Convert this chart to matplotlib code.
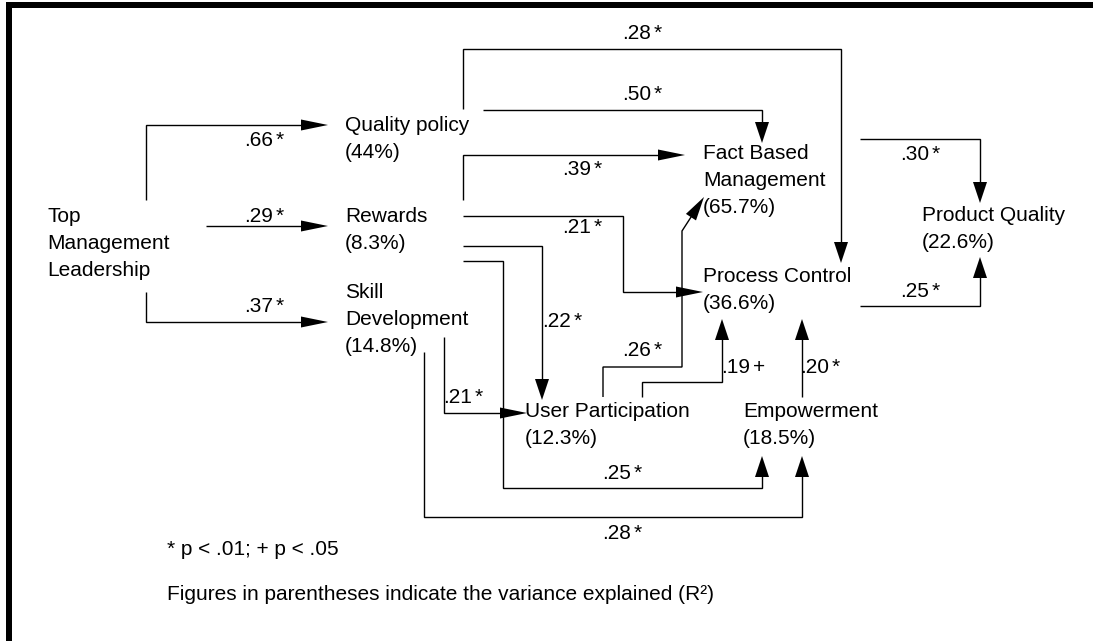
import matplotlib
matplotlib.use("Agg")
import matplotlib.pyplot as plt
from matplotlib.patches import Polygon, Rectangle

# ---------------- data ----------------
node_keys = ["TML", "QP", "RW", "SD", "FBM", "PC", "UP", "EM", "PQ"]
node_names = ["Top\nManagement\nLeadership", "Quality policy", "Rewards",
              "Skill\nDevelopment", "Fact Based\nManagement", "Process Control",
              "User Participation", "Empowerment", "Product Quality"]
node_r2 = [None, "44%", "8.3%", "14.8%", "65.7%", "36.6%", "12.3%", "18.5%", "22.6%"]

path_from = ["TML", "TML", "TML", "QP", "QP", "RW", "RW", "RW", "RW",
             "SD", "SD", "UP", "UP", "EM", "FBM", "PC"]
path_to = ["QP", "RW", "SD", "PC", "FBM", "FBM", "PC", "UP", "EM",
           "UP", "EM", "FBM", "PC", "PC", "PQ", "PQ"]
path_coef = [".66", ".29", ".37", ".28", ".50", ".39", ".21", ".22", ".25",
             ".21", ".28", ".26", ".19", ".20", ".30", ".25"]
path_sig = ["*", "*", "*", "*", "*", "*", "*", "*", "*",
            "*", "*", "*", "+", "*", "*", "*"]

footnotes = ["* p < .01; + p < .05",
             "Figures in parentheses indicate the variance explained (R\u00b2)"]

# ---------------- layout (pixel space) ----------------
W, H = 1093, 641
node_pos = {"TML": (47, 222), "QP": (345, 131), "RW": (345, 222), "SD": (345, 298),
            "FBM": (703, 159), "PC": (703, 282), "UP": (525, 417), "EM": (743, 417),
            "PQ": (922, 221)}
line_step = 26.9

routes = [
    [(146, 200), (146, 125), (328, 125)],
    [(206, 226), (328, 226)],
    [(146, 292), (146, 322), (328, 322)],
    [(463, 109), (463, 49), (841, 49), (841, 263)],
    [(483, 110), (762, 110), (762, 143)],
    [(463, 200), (463, 155), (685, 155)],
    [(463, 216), (623, 216), (623, 292), (703, 292)],
    [(463, 246), (542, 246), (542, 400)],
    [(463, 261), (503, 261), (503, 488), (762, 488), (762, 456)],
    [(444, 337), (444, 413), (527, 413)],
    [(424, 352), (424, 517), (802, 517), (802, 456)],
    [(603, 397), (603, 367), (682, 367), (682, 231), (704, 197)],
    [(642, 397), (642, 382), (722, 382), (722, 319)],
    [(802, 397), (802, 319)],
    [(860, 139), (980, 139), (980, 203)],
    [(860, 306), (980, 306), (980, 257)],
]
label_pos = [(246, 146), (246, 222), (246, 312), (624, 39), (624, 100), (564, 175),
             (564, 233), (544, 327), (604, 479), (445, 403), (604, 539), (624, 356),
             (723, 373), (802, 373), (902, 160), (902, 297)]
foot_pos = [(167, 555), (167, 600)]

FONT = "Liberation Sans"
FS = 15
LW = 1.0

fig = plt.figure(figsize=(W / 100, H / 100), dpi=100)
ax = fig.add_axes([0, 0, 1, 1])
ax.set_xlim(0, W)
ax.set_ylim(H, 0)
ax.axis("off")

# border
ax.add_patch(Rectangle((6, 2), W - 6, 5.5, color="black", lw=0))
ax.add_patch(Rectangle((6, 2), 6, H, color="black", lw=0))


def arrow(pts):
    import math
    (x0, y0), (x1, y1) = pts[-2], pts[-1]
    dx, dy = x1 - x0, y1 - y0
    d = math.hypot(dx, dy)
    ux, uy = dx / d, dy / d
    if abs(dy) < 1e-6:
        L, hw = 27, 5.5
    elif abs(dx) < 1e-6:
        L, hw = 21, 7
    else:
        L, hw = 24, 6
    bx, by = x1 - ux * L, y1 - uy * L
    px, py = -uy, ux
    xs = [p[0] for p in pts[:-1]] + [bx + ux * 2]
    ys = [p[1] for p in pts[:-1]] + [by + uy * 2]
    ax.plot(xs, ys, color="black", lw=LW, solid_joinstyle="miter",
            solid_capstyle="butt")
    tri = [(x1, y1), (bx + px * hw, by + py * hw), (bx - px * hw, by - py * hw)]
    ax.add_patch(Polygon(tri, closed=True, color="black", lw=0))


for pts in routes:
    arrow(pts)

# node labels
for key, name, r2 in zip(node_keys, node_names, node_r2):
    x, y = node_pos[key]
    lines = name.split("\n") + ([f"({r2})"] if r2 else [])
    for i, ln in enumerate(lines):
        ax.text(x, y + i * line_step, ln, fontsize=FS, family=FONT,
                ha="left", va="baseline")

# path coefficients
for (x, y), c, s in zip(label_pos, path_coef, path_sig):
    t = ax.text(x - 2, y, c, fontsize=FS, family=FONT, ha="left", va="baseline")
    ax.annotate(s, xy=(1, 0), xycoords=t, xytext=(3, 0), textcoords="offset pixels",
                fontsize=FS, family=FONT, ha="left", va="bottom")

for (x, y), s in zip(foot_pos, footnotes):
    ax.text(x, y, s, fontsize=FS, family=FONT, ha="left", va="baseline")

fig.savefig("out.png", dpi=100)
